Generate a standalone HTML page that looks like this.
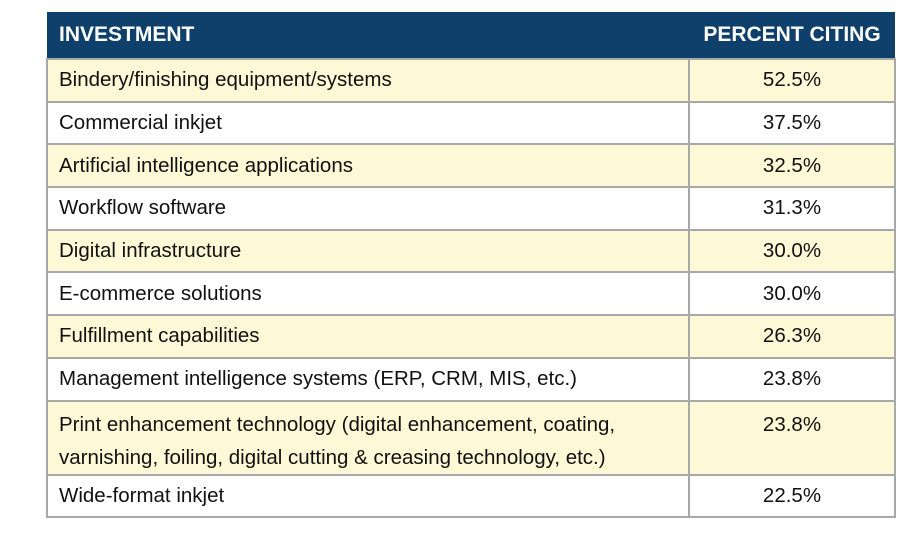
<!DOCTYPE html>
<html><head><style>
body{margin:0;width:918px;height:534px;background:#fff;font-family:"Liberation Sans",sans-serif;}
table{position:absolute;left:46px;top:12px;width:850px;border-collapse:collapse;}
th{background:#0f3f6b;color:#fff;font-weight:bold;font-size:21px;text-align:left;height:46px;padding:0 0 0 12px;border:none;}
th.p{text-align:center;padding:0;}
td{border:2px solid #a8a8a8;font-size:20.5px;color:#111;padding:0 0 0 11px;height:40.7px;}
td.p{text-align:center;padding:0;width:204px;}
tr.y td{background:#fdf8d6;}
tr.t td{vertical-align:top;padding-top:6px;line-height:33px;height:64px;}
tr.t td.p{padding-top:6px;}
</style></head><body>
<table>
<tr><th>INVESTMENT</th><th class="p">PERCENT CITING</th></tr>
<tr class="y"><td>Bindery/finishing equipment/systems</td><td class="p">52.5%</td></tr>
<tr><td>Commercial inkjet</td><td class="p">37.5%</td></tr>
<tr class="y"><td>Artificial intelligence applications</td><td class="p">32.5%</td></tr>
<tr><td>Workflow software</td><td class="p">31.3%</td></tr>
<tr class="y"><td>Digital infrastructure</td><td class="p">30.0%</td></tr>
<tr><td>E-commerce solutions</td><td class="p">30.0%</td></tr>
<tr class="y"><td>Fulfillment capabilities</td><td class="p">26.3%</td></tr>
<tr><td>Management intelligence systems (ERP, CRM, MIS, etc.)</td><td class="p">23.8%</td></tr>
<tr class="y t"><td>Print enhancement technology (digital enhancement, coating,<br>varnishing, foiling, digital cutting &amp; creasing technology, etc.)</td><td class="p">23.8%</td></tr>
<tr><td>Wide-format inkjet</td><td class="p">22.5%</td></tr>
</table>
</body></html>
